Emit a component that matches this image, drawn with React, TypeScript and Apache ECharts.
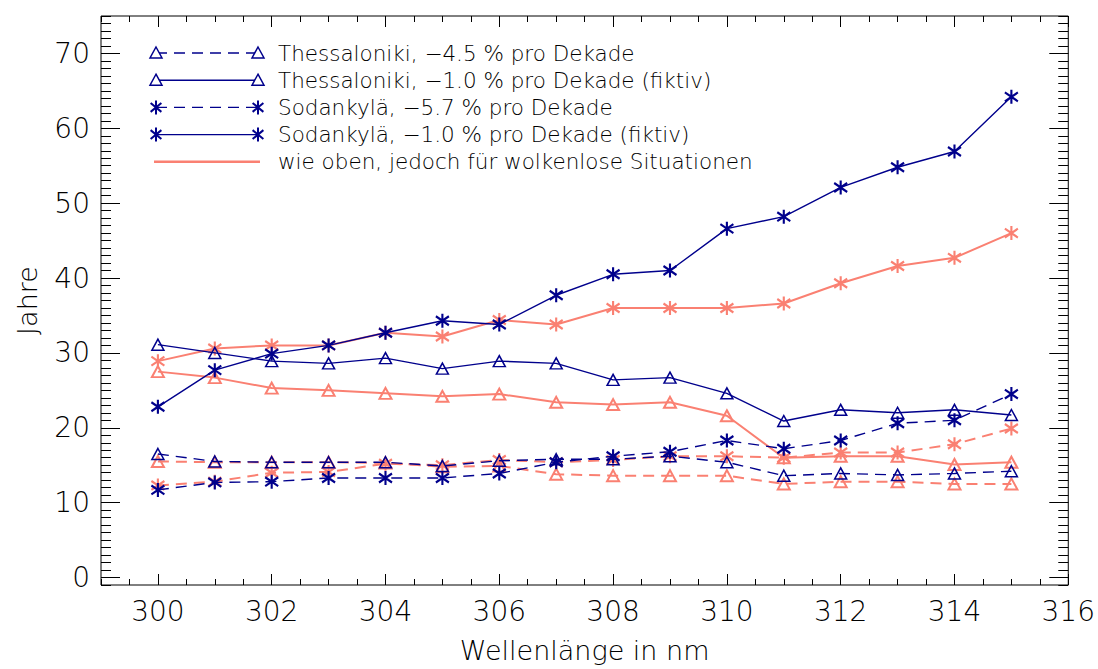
import React, { useEffect, useRef } from "react";
import * as echarts from "echarts";

const wavelengths = [300, 301, 302, 303, 304, 305, 306, 307, 308, 309, 310, 311, 312, 313, 314, 315];

// Bewölkt (all sky)
const thessalonikiReal = [16.5, 15.5, 15.4, 15.4, 15.4, 14.9, 15.6, 15.8, 15.8, 16.2, 15.4, 13.6, 13.9, 13.7, 13.9, 14.2];
const thessalonikiFict = [31.1, 30.0, 28.9, 28.6, 29.3, 27.9, 28.9, 28.6, 26.4, 26.7, 24.6, 20.9, 22.4, 22.0, 22.4, 21.7];
const sodankylaReal = [11.7, 12.7, 12.8, 13.3, 13.3, 13.3, 13.9, 15.4, 16.2, 16.8, 18.3, 17.2, 18.3, 20.6, 21.0, 24.5];
const sodankylaFict = [22.8, 27.7, 29.9, 31.0, 32.7, 34.3, 33.8, 37.7, 40.5, 41.0, 46.6, 48.2, 52.1, 54.8, 56.9, 64.2];

// wolkenlos (clear sky)
const thessalonikiRealClear = [15.5, 15.4, 15.4, 15.4, 15.3, 14.8, 14.9, 13.8, 13.6, 13.6, 13.6, 12.5, 12.8, 12.8, 12.5, 12.5];
const thessalonikiFictClear = [27.5, 26.7, 25.3, 25.0, 24.6, 24.2, 24.5, 23.4, 23.1, 23.4, 21.6, 16.0, 16.2, 16.2, 15.1, 15.4];
const sodankylaRealClear = [12.3, 12.8, 14.0, 14.1, 15.2, 15.0, 15.7, 15.4, 15.7, 16.2, 16.2, 16.0, 16.7, 16.7, 17.8, 19.9];
const sodankylaFictClear = [28.9, 30.6, 31.0, 31.0, 32.7, 32.2, 34.4, 33.8, 36.0, 36.0, 36.0, 36.6, 39.3, 41.6, 42.7, 46.0];

const xTickLabels = [300, 302, 304, 306, 308, 310, 312, 314, 316];
const yTickLabels = [0, 10, 20, 30, 40, 50, 60, 70];

const legendLabels = [
  "Thessaloniki, \u22124.5 % pro Dekade",
  "Thessaloniki, \u22121.0 % pro Dekade (fiktiv)",
  "Sodankyl\u00e4, \u22125.7 % pro Dekade",
  "Sodankyl\u00e4, \u22121.0 % pro Dekade (fiktiv)",
  "wie oben, jedoch f\u00fcr wolkenlose Situationen",
];

const BLUE = "#00008C";
const SALMON = "#FA8072";
const FONT = "'DejaVu Sans ExtraLight', 'DejaVu Sans', sans-serif";
const FW = 200;
const ASTERISK = "path://M0,-10L0,10M-7.7,-6.4L7.7,6.4M-7.7,6.4L7.7,-6.4";
const DASH = [11, 7];

function makeSeries(name: string, vals: number[], color: string, dashed: boolean, sym: "tri" | "ast") {
  const blue = color === BLUE;
  return {
    name,
    type: "line",
    data: wavelengths.map((w, i) => [w, vals[i]]),
    xAxisIndex: 0,
    yAxisIndex: 0,
    symbol: sym === "tri" ? "triangle" : ASTERISK,
    symbolSize: sym === "tri" ? [12, 11] : [13, 14],
    showSymbol: true,
    showAllSymbol: true,
    lineStyle: { color, width: blue ? 1.4 : 2, type: dashed ? DASH : "solid" },
    itemStyle: { color: "rgba(0,0,0,0)", borderColor: color, borderWidth: sym === "ast" ? 2.2 : blue ? 1.5 : 2 },
    emphasis: { disabled: true },
    silent: true,
    z: blue ? 3 : 2,
  };
}

function legendGraphics() {
  const els: any[] = [];
  const rows = [
    { color: BLUE, dashed: true, sym: "tri" },
    { color: BLUE, dashed: false, sym: "tri" },
    { color: BLUE, dashed: true, sym: "ast" },
    { color: BLUE, dashed: false, sym: "ast" },
    { color: SALMON, dashed: false, sym: "none" },
  ];
  const x1 = 156;
  const x2 = 258;
  rows.forEach((r, i) => {
    const y = 53 + i * 27.2;
    els.push({
      type: "line",
      shape: { x1: r.sym === "none" ? x1 - 2 : x1, y1: y, x2: r.sym === "none" ? x2 + 2 : x2, y2: y },
      style: { stroke: r.color, lineWidth: r.color === BLUE ? 1.4 : 2.5, lineDash: r.dashed ? DASH : null },
      silent: true,
    });
    [x1, x2].forEach((cx) => {
      if (r.sym === "tri") {
        els.push({
          type: "polygon",
          shape: { points: [[cx, y - 6], [cx + 6, y + 5], [cx - 6, y + 5]] },
          style: { fill: "#fff", stroke: r.color, lineWidth: 1.5 },
          silent: true,
        });
      } else if (r.sym === "ast") {
        const s = 7;
        [[0, -s, 0, s], [-0.77 * s, -0.64 * s, 0.77 * s, 0.64 * s], [-0.77 * s, 0.64 * s, 0.77 * s, -0.64 * s]].forEach((p) => {
          els.push({
            type: "line",
            shape: { x1: cx + p[0], y1: y + p[1], x2: cx + p[2], y2: y + p[3] },
            style: { stroke: r.color, lineWidth: 2 },
            silent: true,
          });
        });
      }
    });
    els.push({
      type: "text",
      x: 278,
      y,
      style: { text: legendLabels[i], fontSize: 21.5, fontFamily: FONT, fontWeight: FW, fill: "#000", verticalAlign: "middle", align: "left" },
      silent: true,
    });
  });
  return els;
}

export default function App() {
  const ref = useRef<HTMLDivElement>(null);
  useEffect(() => {
    if (!ref.current) return;
    const chart = echarts.init(ref.current, undefined, { renderer: "svg" });
    const tickStyle = { color: "#000", width: 1 };
    const xBase = { type: "value", min: 299, max: 316, splitLine: { show: false }, axisLine: { show: false, onZero: false } };
    const yBase = { type: "value", min: -1, max: 75, splitLine: { show: false }, axisLine: { show: false, onZero: false } };
    chart.setOption({
      animation: false,
      backgroundColor: "#fff",
      grid: { left: 101, right: 28, top: 16, bottom: 83, show: true, borderColor: "#000", borderWidth: 1, backgroundColor: "transparent" },
      xAxis: [
        {
          ...xBase,
          position: "bottom",
          axisTick: { show: true, inside: true, length: 11, customValues: xTickLabels, lineStyle: tickStyle },
          axisLabel: { customValues: xTickLabels, fontSize: 28, fontFamily: FONT, fontWeight: FW, color: "#000", margin: 12 },
          name: "Wellenl\u00e4nge in nm",
          nameLocation: "middle",
          nameGap: 52,
          nameTextStyle: { fontSize: 27, fontFamily: FONT, fontWeight: FW, color: "#000" },
        },
        { ...xBase, position: "bottom", axisTick: { show: true, inside: true, length: 6, lineStyle: tickStyle }, interval: 0.5, axisLabel: { show: false } },
        { ...xBase, position: "top", axisTick: { show: true, inside: true, length: 11, customValues: xTickLabels, lineStyle: tickStyle }, axisLabel: { show: false } },
        { ...xBase, position: "top", axisTick: { show: true, inside: true, length: 6, lineStyle: tickStyle }, interval: 0.5, axisLabel: { show: false } },
      ],
      yAxis: [
        {
          ...yBase,
          position: "left",
          axisTick: { show: true, inside: true, length: 19, customValues: yTickLabels, lineStyle: tickStyle },
          axisLabel: { customValues: yTickLabels, fontSize: 28, fontFamily: FONT, fontWeight: FW, color: "#000", margin: 11 },
          name: "Jahre",
          nameLocation: "middle",
          nameGap: 60,
          nameRotate: 90,
          nameTextStyle: { fontSize: 27, fontFamily: FONT, fontWeight: FW, color: "#000" },
        },
        { ...yBase, position: "left", axisTick: { show: true, inside: true, length: 10, lineStyle: tickStyle }, interval: 1, axisLabel: { show: false } },
        { ...yBase, position: "right", axisTick: { show: true, inside: true, length: 19, customValues: yTickLabels, lineStyle: tickStyle }, axisLabel: { show: false } },
        { ...yBase, position: "right", axisTick: { show: true, inside: true, length: 10, lineStyle: tickStyle }, interval: 1, axisLabel: { show: false } },
      ],
      series: [
        makeSeries("Thessaloniki wolkenlos real", thessalonikiRealClear, SALMON, true, "tri"),
        makeSeries("Thessaloniki wolkenlos fiktiv", thessalonikiFictClear, SALMON, false, "tri"),
        makeSeries("Sodankylä wolkenlos real", sodankylaRealClear, SALMON, true, "ast"),
        makeSeries("Sodankylä wolkenlos fiktiv", sodankylaFictClear, SALMON, false, "ast"),
        makeSeries(legendLabels[0], thessalonikiReal, BLUE, true, "tri"),
        makeSeries(legendLabels[1], thessalonikiFict, BLUE, false, "tri"),
        makeSeries(legendLabels[2], sodankylaReal, BLUE, true, "ast"),
        makeSeries(legendLabels[3], sodankylaFict, BLUE, false, "ast"),
      ],
      graphic: legendGraphics(),
    });
    return () => chart.dispose();
  }, []);
  return <div ref={ref} style={{ position: "fixed", left: 0, top: 0, width: 1098, height: 669 }} />;
}
